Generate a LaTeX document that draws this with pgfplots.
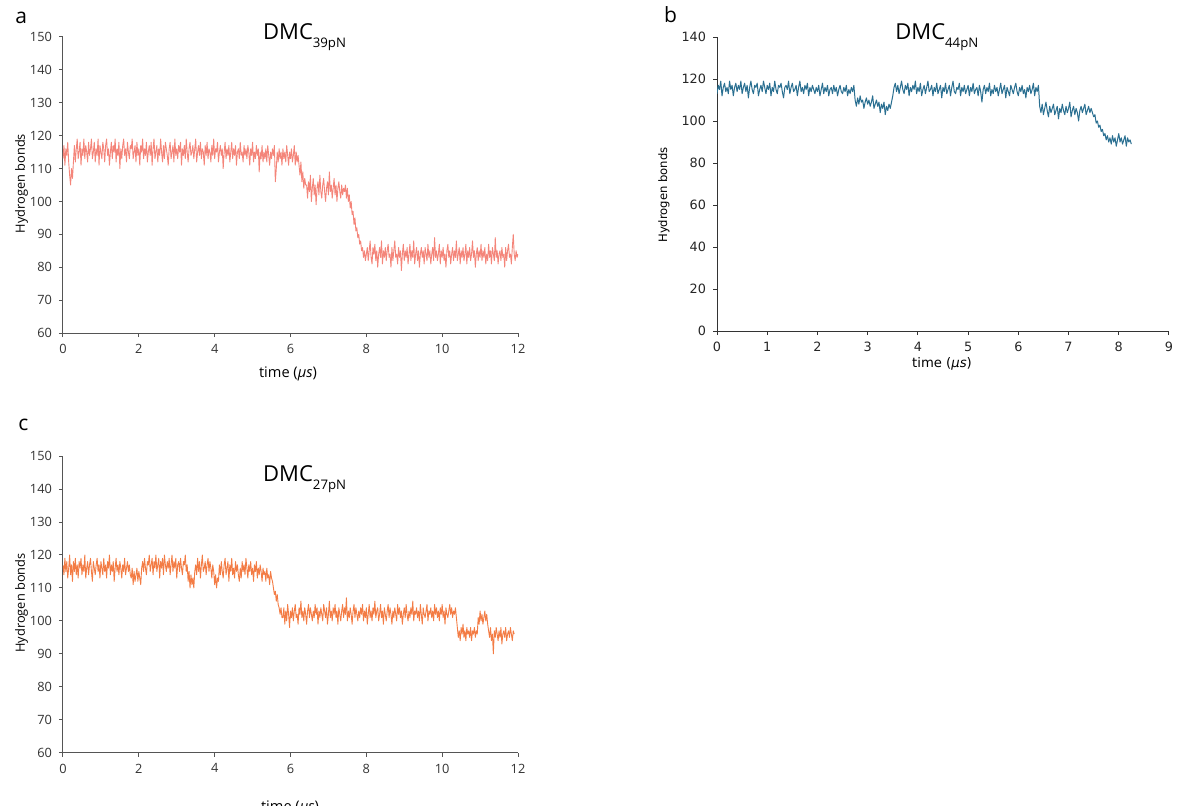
\documentclass[border=0pt]{standalone}
\usepackage{pgfplots}
\pgfplotsset{compat=1.18}
\usepackage{fontspec}
\setmainfont{Open Sans}
\newfontfamily\dejavu{DejaVu Sans}
\definecolor{ca}{HTML}{F4857A}
\definecolor{cb}{HTML}{2A6F91}
\definecolor{cc}{HTML}{F37C45}
\definecolor{axg}{HTML}{555555}
\definecolor{axd}{HTML}{333333}

\pgfplotsset{
  panel/.style={
    scale only axis, anchor=south west,
    axis x line*=bottom, axis y line*=left,
    axis line style={draw=axg, line width=0.5pt, -},
    tick align=outside, major tick length=2pt,
    tick style={draw=axg, line width=0.5pt},
    ticklabel style={font=\fontsize{6.4}{7}\selectfont, text=axd},
    /pgf/number format/assume math mode=true,
    enlargelimits=false,
  },
}

\begin{document}
\begin{tikzpicture}
% ---------- panel a ----------
\begin{axis}[panel, at={(31.5pt,236pt)}, width=227.5pt, height=148pt,
  xmin=0, xmax=12, ymin=60, ymax=150,
  xtick={0,2,...,12}, ytick={60,70,...,150}]
\addplot[ca, line width=0.45pt, line join=round] table[row sep=\\, x expr=\coordindex*0.025, y=y] {
y\\
113\\117\\111\\116\\114\\118\\112\\
108\\105\\110\\107\\112\\
117\\112\\116\\119\\113\\115\\118\\111\\116\\114\\119\\113\\117\\115\\112\\118\\114\\116\\119\\113\\
115\\118\\112\\116\\114\\119\\111\\117\\115\\113\\118\\116\\112\\117\\119\\114\\116\\111\\115\\118\\
113\\117\\115\\119\\112\\116\\114\\118\\110\\116\\113\\117\\119\\114\\116\\112\\118\\115\\113\\117\\
116\\119\\113\\115\\117\\112\\118\\114\\116\\111\\117\\115\\119\\113\\116\\114\\118\\112\\115\\117\\
114\\118\\111\\116\\119\\113\\115\\117\\112\\116\\114\\119\\115\\112\\117\\113\\118\\116\\114\\111\\
116\\118\\113\\115\\117\\112\\119\\114\\116\\113\\117\\115\\118\\111\\116\\114\\117\\113\\119\\115\\
112\\116\\118\\114\\115\\117\\113\\116\\119\\112\\115\\117\\114\\118\\113\\116\\115\\111\\117\\114\\
118\\113\\116\\115\\112\\117\\114\\119\\113\\116\\115\\118\\112\\115\\117\\114\\116\\110\\115\\118\\
113\\116\\114\\117\\112\\115\\118\\113\\116\\114\\117\\111\\115\\116\\113\\118\\114\\115\\112\\117\\
114\\116\\113\\117\\115\\111\\116\\114\\118\\112\\115\\113\\117\\114\\116\\109\\115\\113\\117\\112\\
115\\113\\116\\112\\117\\114\\111\\115\\113\\116\\114\\117\\106\\110\\115\\112\\116\\113\\115\\111\\
116\\113\\115\\112\\117\\114\\111\\115\\113\\116\\112\\114\\117\\111\\115\\112\\114\\
111\\108\\112\\106\\109\\104\\107\\105\\
105\\101\\106\\103\\108\\100\\104\\107\\102\\105\\99\\104\\106\\102\\108\\103\\101\\105\\107\\103\\
100\\104\\106\\102\\109\\103\\105\\101\\104\\107\\102\\105\\100\\104\\106\\103\\101\\105\\102\\104\\
103\\105\\101\\104\\100\\102\\98\\100\\96\\97\\93\\95\\91\\92\\89\\90\\87\\88\\85\\86\\83\\85\\82\\84\\
86\\82\\85\\88\\83\\81\\86\\84\\87\\82\\85\\80\\84\\86\\83\\88\\81\\85\\83\\86\\
82\\85\\87\\83\\84\\80\\86\\82\\85\\88\\83\\84\\81\\86\\83\\85\\79\\84\\87\\82\\
85\\83\\86\\81\\84\\87\\82\\85\\83\\88\\81\\84\\86\\82\\85\\80\\84\\86\\83\\85\\
81\\86\\84\\82\\87\\83\\85\\81\\84\\86\\82\\89\\83\\85\\82\\84\\87\\81\\85\\83\\
86\\82\\84\\80\\85\\87\\83\\85\\81\\84\\86\\82\\85\\83\\88\\82\\84\\86\\81\\85\\
83\\86\\82\\84\\87\\81\\85\\83\\86\\82\\84\\88\\83\\85\\80\\84\\86\\82\\85\\83\\
87\\82\\85\\83\\86\\81\\84\\82\\87\\83\\85\\81\\86\\84\\82\\89\\83\\85\\81\\84\\
85\\82\\86\\83\\84\\80\\86\\82\\85\\87\\83\\84\\81\\86\\90\\84\\82\\85\\83\\84\\
};
\end{axis}
% ---------- panel b ----------
\begin{axis}[panel, at={(358.5pt,237pt)}, width=226pt, height=147pt,
  xmin=0, xmax=9, ymin=0, ymax=140,
  xtick={0,1,...,9}, ytick={0,20,...,140},
  axis line style={draw=axd, line width=0.5pt, -},
  tick style={draw=axd, line width=0.5pt},
  ticklabel style={font=\dejavu\fontsize{6.4}{7}\selectfont, text=black!85}]
\addplot[cb, line width=0.5pt, line join=round] table[row sep=\\, x expr=\coordindex*0.025, y=y] {
y\\
113\\117\\115\\119\\112\\116\\118\\114\\116\\113\\119\\115\\117\\112\\116\\118\\114\\117\\115\\119\\
113\\116\\118\\114\\117\\111\\116\\119\\115\\113\\117\\116\\118\\112\\115\\117\\114\\119\\116\\113\\
117\\115\\118\\112\\116\\114\\119\\115\\113\\117\\116\\118\\114\\111\\116\\117\\115\\119\\113\\116\\
118\\114\\115\\117\\112\\116\\119\\114\\116\\113\\117\\115\\118\\112\\116\\114\\117\\115\\113\\116\\
114\\117\\112\\115\\118\\113\\116\\114\\117\\112\\115\\116\\113\\117\\114\\116\\112\\115\\117\\114\\
113\\116\\114\\117\\112\\115\\113\\116\\114\\117\\
110\\107\\111\\108\\112\\109\\110\\106\\109\\111\\108\\110\\107\\109\\112\\106\\108\\110\\107\\109\\
104\\108\\106\\109\\103\\107\\105\\108\\106\\109\\
112\\116\\118\\114\\117\\113\\116\\119\\115\\113\\117\\115\\118\\112\\116\\114\\117\\115\\119\\113\\
116\\114\\118\\112\\115\\117\\113\\116\\119\\114\\115\\117\\112\\116\\114\\118\\113\\115\\117\\111\\
116\\114\\118\\113\\115\\117\\112\\116\\119\\114\\113\\116\\115\\118\\112\\116\\114\\117\\113\\115\\
117\\112\\116\\114\\118\\113\\115\\116\\112\\117\\114\\109\\115\\117\\113\\116\\114\\118\\112\\115\\
113\\117\\114\\116\\112\\115\\118\\113\\115\\117\\111\\116\\114\\112\\117\\115\\113\\116\\118\\114\\
112\\116\\114\\117\\113\\115\\111\\116\\114\\117\\113\\115\\118\\112\\116\\114\\117\\
107\\104\\108\\103\\106\\109\\105\\102\\107\\104\\106\\108\\103\\105\\107\\101\\106\\104\\108\\105\\
103\\107\\104\\106\\109\\102\\105\\107\\103\\106\\104\\100\\105\\107\\104\\106\\108\\103\\105\\107\\104\\106\\
104\\102\\103\\99\\100\\97\\98\\95\\96\\93\\94\\91\\93\\90\\
92\\89\\93\\90\\92\\88\\91\\94\\90\\92\\89\\91\\93\\88\\92\\90\\91\\89\\
};
\end{axis}
% ---------- panel c ----------
\begin{axis}[panel, at={(31.5pt,26.15pt)}, width=227.5pt, height=148.3pt,
  xmin=0, xmax=12, ymin=60, ymax=150,
  xtick={0,2,...,12}, ytick={60,70,...,150}]
\addplot[cc, line width=0.45pt, line join=round] table[row sep=\\, x expr=\coordindex*0.025, y=y] {
y\\
117\\114\\119\\115\\118\\113\\116\\120\\114\\117\\112\\118\\115\\119\\114\\117\\113\\118\\116\\119\\
114\\117\\115\\120\\113\\116\\118\\114\\117\\119\\115\\112\\118\\116\\114\\117\\119\\115\\117\\113\\
118\\116\\114\\119\\115\\117\\113\\118\\116\\120\\114\\117\\115\\118\\112\\116\\119\\115\\117\\114\\
118\\116\\113\\117\\115\\119\\114\\116\\118\\115\\117\\114\\
113\\116\\111\\115\\112\\114\\116\\112\\115\\113\\111\\116\\
118\\115\\119\\116\\114\\118\\117\\120\\115\\117\\119\\114\\118\\116\\120\\115\\117\\119\\113\\118\\
116\\119\\114\\120\\117\\115\\118\\116\\119\\114\\117\\120\\115\\118\\116\\119\\113\\117\\118\\115\\
119\\116\\114\\118\\117\\120\\115\\117\\
112\\115\\110\\114\\111\\113\\110\\115\\
117\\114\\119\\115\\118\\113\\117\\120\\115\\116\\118\\114\\117\\119\\115\\118\\116\\113\\117\\115\\
111\\114\\110\\113\\112\\
117\\114\\118\\115\\113\\117\\119\\114\\116\\118\\112\\117\\115\\119\\114\\116\\113\\118\\115\\117\\
114\\112\\116\\113\\118\\115\\117\\114\\119\\116\\113\\117\\115\\118\\114\\116\\112\\117\\115\\118\\
113\\116\\114\\117\\115\\112\\116\\114\\
115\\112\\116\\113\\114\\111\\115\\113\\112\\
110\\108\\109\\106\\108\\105\\104\\102\\104\\101\\
101\\104\\99\\103\\100\\105\\102\\98\\103\\101\\104\\100\\103\\105\\101\\102\\99\\104\\102\\106\\
101\\103\\100\\104\\102\\99\\103\\105\\101\\104\\102\\100\\103\\101\\105\\102\\104\\99\\103\\101\\
104\\102\\100\\105\\103\\101\\104\\99\\102\\106\\101\\103\\100\\104\\102\\105\\101\\103\\99\\104\\
102\\100\\103\\105\\101\\104\\102\\107\\100\\103\\101\\104\\102\\99\\103\\105\\101\\104\\102\\100\\
103\\101\\104\\102\\105\\100\\103\\101\\104\\99\\102\\105\\101\\103\\100\\104\\102\\106\\101\\103\\
104\\100\\102\\105\\101\\103\\99\\104\\102\\100\\103\\105\\101\\104\\102\\99\\103\\101\\104\\102\\
100\\105\\102\\104\\101\\103\\99\\102\\104\\101\\105\\102\\100\\103\\101\\104\\102\\106\\100\\103\\
102\\104\\101\\103\\100\\105\\102\\99\\104\\102\\101\\103\\105\\100\\103\\102\\104\\101\\103\\100\\
105\\102\\104\\101\\103\\100\\104\\102\\105\\101\\103\\99\\104\\102\\101\\103\\105\\102\\104\\101\\
103\\102\\104\\101\\
98\\95\\97\\94\\98\\96\\99\\95\\97\\94\\98\\96\\97\\95\\98\\94\\97\\96\\98\\95\\97\\96\\
101\\99\\103\\100\\102\\99\\101\\103\\100\\102\\99\\
97\\95\\98\\94\\96\\90\\97\\95\\98\\96\\94\\97\\95\\98\\93\\96\\97\\95\\98\\94\\96\\97\\95\\98\\96\\94\\97\\96\\
};
\end{axis}
% ---------- texts ----------
\node[anchor=base west, font=\fontsize{10.5}{12}\selectfont] at (4.15pt,390.5pt) {a};
\node[anchor=base west, font=\fontsize{10.5}{12}\selectfont] at (328.5pt,391.15pt) {b};
\node[anchor=base west, font=\fontsize{10.5}{12}\selectfont] at (5.7pt,187.5pt) {c};
\node[anchor=base west, inner sep=0pt, font=\fontsize{11}{13}\selectfont] at (131.35pt,382.85pt) {DMC\raisebox{-4pt}{\fontsize{6.6}{7}\selectfont 39pN}};
\node[anchor=base west, inner sep=0pt, font=\fontsize{11}{13}\selectfont] at (447.5pt,382.85pt) {DMC\raisebox{-4pt}{\fontsize{6.6}{7}\selectfont 44pN}};
\node[anchor=base west, inner sep=0pt, font=\fontsize{11}{13}\selectfont] at (131.4pt,161.65pt) {DMC\raisebox{-4pt}{\fontsize{6.6}{7}\selectfont 27pN}};
\node[rotate=90, anchor=base, inner sep=0pt, font=\fontsize{6.4}{7}\selectfont] at (12.5pt,310.75pt) {Hydrogen bonds};
\node[rotate=90, anchor=base, inner sep=0pt, font=\dejavu\fontsize{5.8}{7}\selectfont] at (333.5pt,305pt) {Hydrogen bonds};
\node[rotate=90, anchor=base, inner sep=0pt, font=\fontsize{6.4}{7}\selectfont] at (12.4pt,101pt) {Hydrogen bonds};
\node[anchor=base, inner sep=0pt, font=\fontsize{7.3}{8}\selectfont] at (144pt,214pt) {time (\textit{μs})};
\node[anchor=base, inner sep=0pt, font=\dejavu\fontsize{6.6}{8}\selectfont] at (471pt,218.65pt) {time (\textit{μs})};
\node[anchor=base, inner sep=0pt, font=\fontsize{7.3}{8}\selectfont] at (145pt,-3pt) {time (\textit{μs})};
\pgfresetboundingbox
\path[use as bounding box] (0,0) rectangle (591pt,402.5pt);
\end{tikzpicture}
\end{document}
